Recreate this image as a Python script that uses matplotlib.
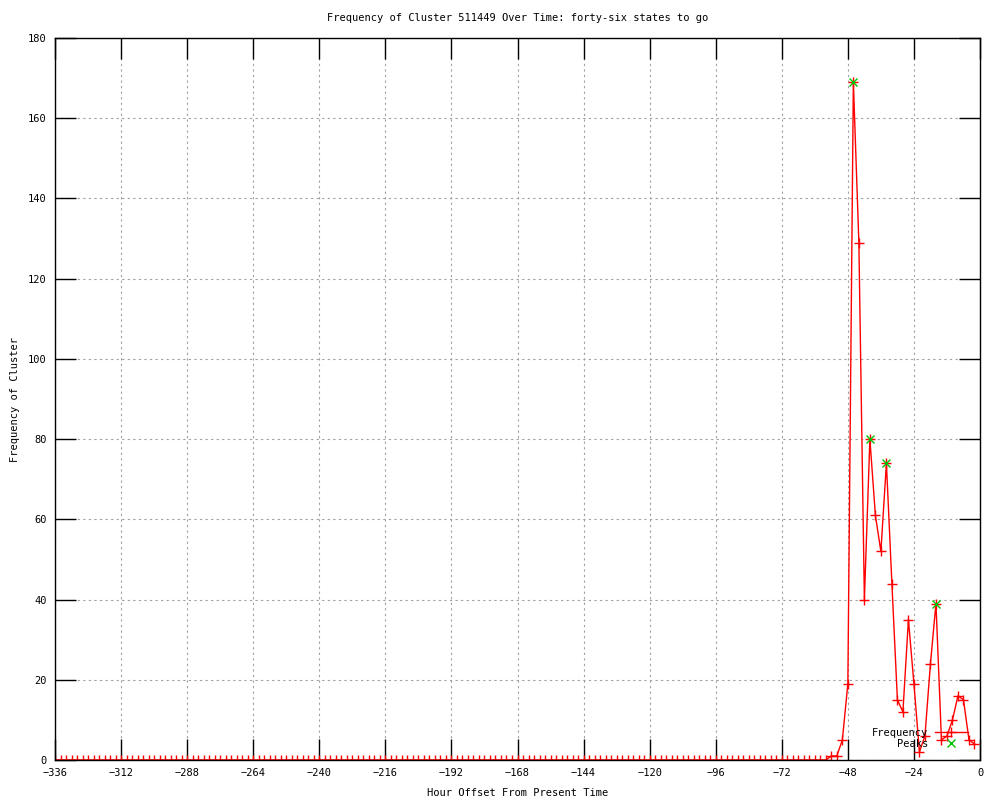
import numpy as np
import matplotlib
matplotlib.use("Agg")
import matplotlib.pyplot as plt

# Data: hour offsets every 2 hours, from -336 to -2
hours = list(range(-336, 0, 2))
tail_hours = [-54, -52, -50, -48, -46, -44, -42, -40, -38, -36, -34, -32, -30,
              -28, -26, -24, -22, -20, -18, -16, -14, -12, -10, -8, -6, -4, -2]
tail_values = [1, 1, 5, 19, 169, 129, 40, 80, 61, 52, 74, 44, 15,
               12, 35, 19, 2, 6, 24, 39, 5, 6, 10, 16, 15, 5, 4]
frequency = [0] * (len(hours) - len(tail_values)) + tail_values

peak_hours = [-46, -40, -34, -16]
peak_values = [169, 80, 74, 39]

x_ticks = list(range(-336, 1, 24))
y_ticks = list(range(0, 181, 20))

plt.rcParams['font.family'] = ['DejaVu Sans Mono']
fig = plt.figure(figsize=(10, 8), dpi=100)
ax = fig.add_axes([0.055, 0.05, 0.925, 0.9025])

ax.plot(hours, frequency, color='red', lw=1, marker='+', ms=7, mew=1,
        label='Frequency')
ax.plot(peak_hours, peak_values, ls='none', color='#00c000', marker='x',
        ms=6, mew=1, label='Peaks')

ax.set_xlim(-336, 0)
ax.set_ylim(0, 180)
ax.set_xticks(x_ticks)
ax.set_yticks(y_ticks)
ax.tick_params(direction='in', length=15, width=1, top=True, right=True,
               labelsize=7.5, pad=6)
ax.grid(True, color='#a0a0a0', linestyle=(0, (2, 3)), lw=0.8)
for s in ax.spines.values():
    s.set_linewidth(1)

ax.set_title('Frequency of Cluster 511449 Over Time: forty-six states to go',
             fontsize=7.5, pad=12)
ax.set_xlabel('Hour Offset From Present Time', fontsize=7.5, labelpad=7)
ax.set_ylabel('Frequency of Cluster', fontsize=7.5, labelpad=6)

leg = ax.legend(loc='lower right', bbox_to_anchor=(0.995, 0.005), frameon=False,
                markerfirst=False, fontsize=7.5, handlelength=3.2,
                labelspacing=0.1, borderaxespad=0.3, handletextpad=0.6)

fig.savefig('out.png', dpi=100)
